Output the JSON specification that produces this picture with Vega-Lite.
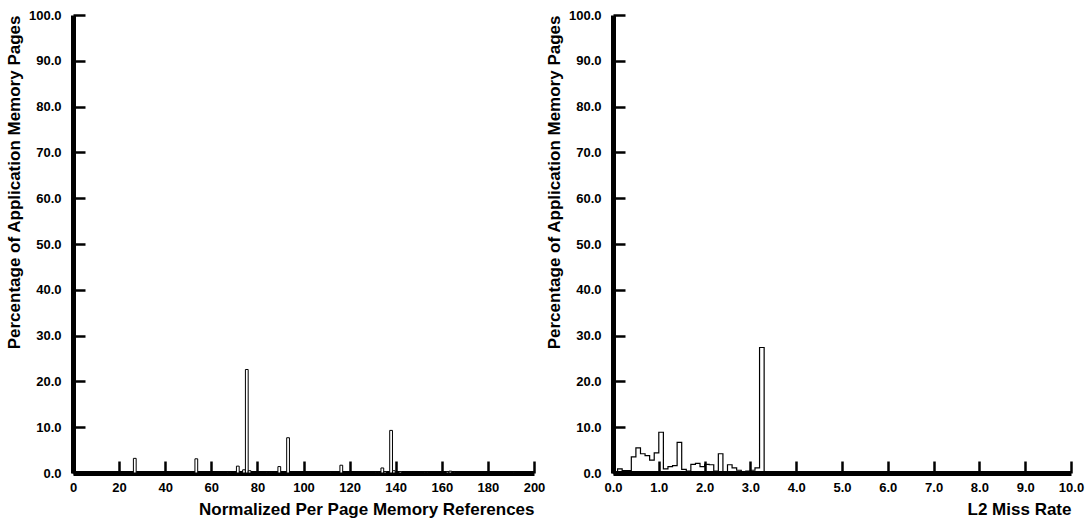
{
  "$schema": "https://vega.github.io/schema/vega-lite/v6.json",
  "padding": {"left": 5, "top": 9, "right": 5, "bottom": 5},
  "background": "white",
  "config": {
    "view": {"stroke": null},
    "font": "Liberation Sans",
    "axis": {
      "grid": false,
      "labelFlush": false,
      "labelOverlap": false,
      "domainColor": "black",
      "domainWidth": 5,
      "tickColor": "black",
      "tickWidth": 2.5,
      "tickSize": -12,
      "labelFont": "Liberation Sans",
      "labelFontWeight": "bold",
      "labelFontSize": 13,
      "labelColor": "black",
      "titleFont": "Liberation Sans",
      "titleFontWeight": "bold",
      "titleFontSize": 17,
      "titleColor": "black",
      "titleAnchor": "end",
      "zindex": 1
    },
    "concat": {"spacing": 0}
  },
  "datasets": {
    "refs": [
      {"start": 26.2, "end": 27.4, "pct": 3.2},
      {"start": 52.9, "end": 54.1, "pct": 3.1},
      {"start": 67.0, "end": 68.2, "pct": 0.1},
      {"start": 70.9, "end": 72.1, "pct": 1.5},
      {"start": 73.6, "end": 74.8, "pct": 0.7},
      {"start": 74.8, "end": 76.0, "pct": 22.6},
      {"start": 76.0, "end": 77.2, "pct": 0.5},
      {"start": 83.9, "end": 85.1, "pct": 0.1},
      {"start": 85.1, "end": 86.3, "pct": 0.1},
      {"start": 88.9, "end": 90.1, "pct": 1.4},
      {"start": 92.7, "end": 93.9, "pct": 7.7},
      {"start": 110.6, "end": 111.8, "pct": 0.1},
      {"start": 115.8, "end": 117.0, "pct": 1.7},
      {"start": 131.2, "end": 132.4, "pct": 0.1},
      {"start": 132.4, "end": 133.6, "pct": 0.1},
      {"start": 133.6, "end": 134.8, "pct": 1.1},
      {"start": 134.8, "end": 136.0, "pct": 0.3},
      {"start": 137.4, "end": 138.6, "pct": 9.3},
      {"start": 138.6, "end": 139.8, "pct": 0.5},
      {"start": 141.4, "end": 142.6, "pct": 0.3},
      {"start": 152.5, "end": 153.7, "pct": 0.1},
      {"start": 161.9, "end": 163.1, "pct": 0.3},
      {"start": 163.1, "end": 164.3, "pct": 0.4},
      {"start": 164.3, "end": 165.5, "pct": 0.1},
      {"start": 191.0, "end": 192.2, "pct": 0.1}
    ],
    "miss": [
      {"rate": 0.0, "pct": 0},
      {"rate": 0.1, "pct": 0.9},
      {"rate": 0.2, "pct": 0.5},
      {"rate": 0.3, "pct": 0.5},
      {"rate": 0.4, "pct": 3.5},
      {"rate": 0.5, "pct": 5.5},
      {"rate": 0.6, "pct": 4.2},
      {"rate": 0.7, "pct": 3.8},
      {"rate": 0.8, "pct": 2.8},
      {"rate": 0.9, "pct": 4.4},
      {"rate": 1.0, "pct": 8.9},
      {"rate": 1.1, "pct": 0.9},
      {"rate": 1.2, "pct": 1.4},
      {"rate": 1.3, "pct": 1.6},
      {"rate": 1.4, "pct": 6.7},
      {"rate": 1.5, "pct": 0.8},
      {"rate": 1.6, "pct": 0.4},
      {"rate": 1.7, "pct": 1.9},
      {"rate": 1.8, "pct": 2.1},
      {"rate": 1.9, "pct": 1.4},
      {"rate": 2.0, "pct": 1.9},
      {"rate": 2.1, "pct": 1.8},
      {"rate": 2.2, "pct": 0.4},
      {"rate": 2.3, "pct": 4.2},
      {"rate": 2.4, "pct": 0.3},
      {"rate": 2.5, "pct": 1.8},
      {"rate": 2.6, "pct": 1.1},
      {"rate": 2.7, "pct": 0.6},
      {"rate": 2.8, "pct": 0.3},
      {"rate": 2.9, "pct": 0.4},
      {"rate": 3.0, "pct": 0.6},
      {"rate": 3.1, "pct": 1.1},
      {"rate": 3.2, "pct": 27.4},
      {"rate": 3.3, "pct": 0}
    ]
  },
  "hconcat": [
    {
      "width": 461,
      "height": 458,
      "data": {"name": "refs"},
      "mark": {"type": "bar", "fill": "white", "stroke": "black", "strokeWidth": 1},
      "encoding": {
        "x": {
          "field": "start", "type": "quantitative",
          "scale": {"domain": [0, 200], "nice": false},
          "axis": {"values": [0, 20, 40, 60, 80, 100, 120, 140, 160, 180, 200], "format": "d", "labelPadding": 20, "title": "Normalized Per Page Memory References", "titlePadding": 7}
        },
        "x2": {"field": "end"},
        "y": {
          "field": "pct", "type": "quantitative",
          "scale": {"domain": [0, 100], "nice": false},
          "axis": {"values": [0, 10, 20, 30, 40, 50, 60, 70, 80, 90, 100], "format": ".1f", "labelPadding": 24, "title": "Percentage of Application Memory Pages", "titlePadding": 5}
        },
        "y2": {"datum": 0}
      }
    },
    {
      "width": 458,
      "height": 458,
      "data": {"name": "miss"},
      "mark": {"type": "line", "interpolate": "step-after", "color": "black", "strokeWidth": 1.2},
      "encoding": {
        "x": {
          "field": "rate", "type": "quantitative",
          "scale": {"domain": [0, 10], "nice": false},
          "axis": {"values": [0, 1, 2, 3, 4, 5, 6, 7, 8, 9, 10], "format": ".1f", "labelPadding": 20, "title": "L2 Miss Rate", "titlePadding": 7}
        },
        "y": {
          "field": "pct", "type": "quantitative",
          "scale": {"domain": [0, 100], "nice": false},
          "axis": {"values": [0, 10, 20, 30, 40, 50, 60, 70, 80, 90, 100], "format": ".1f", "labelPadding": 24, "title": "Percentage of Application Memory Pages", "titlePadding": 5}
        }
      }
    }
  ]
}
